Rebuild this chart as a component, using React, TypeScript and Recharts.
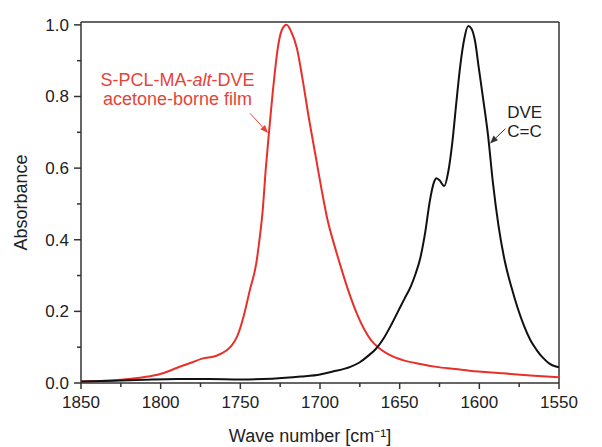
import { LineChart, Line, XAxis, YAxis, ReferenceLine, ReferenceDot } from 'recharts';

// S-PCL-MA-alt-DVE film (red)
const redWave = [1850, 1835, 1820, 1808, 1798, 1790, 1780, 1774, 1765, 1759, 1755, 1752, 1748, 1744, 1740, 1738, 1736, 1734, 1732, 1729, 1726.5, 1724, 1721, 1718, 1714.5, 1711, 1707, 1703, 1699, 1695, 1691, 1687, 1682, 1677, 1672, 1668, 1663, 1657, 1648, 1637, 1627, 1615, 1606, 1585, 1568, 1550];
const redAbs = [0.004, 0.006, 0.011, 0.018, 0.028, 0.042, 0.058, 0.068, 0.076, 0.09, 0.107, 0.13, 0.185, 0.26, 0.334, 0.4, 0.48, 0.6, 0.7, 0.84, 0.935, 0.985, 1.0, 0.98, 0.935, 0.85, 0.74, 0.64, 0.54, 0.45, 0.385, 0.325, 0.255, 0.195, 0.148, 0.12, 0.098, 0.08, 0.064, 0.053, 0.045, 0.039, 0.034, 0.027, 0.021, 0.016];

// DVE monomer (black)
const blackWave = [1850, 1830, 1810, 1790, 1770, 1750, 1730, 1712, 1700, 1692, 1681, 1675, 1670, 1665, 1660, 1655, 1651, 1647, 1643, 1640, 1637, 1634, 1631, 1628.5, 1627, 1625, 1622, 1619.5, 1617, 1614.5, 1612, 1609.5, 1607, 1605, 1602.5, 1600.5, 1597.5, 1594.5, 1591.5, 1588, 1584, 1580, 1576, 1572, 1568, 1564, 1560, 1556, 1552, 1550];
const blackAbs = [0.004, 0.006, 0.009, 0.011, 0.011, 0.01, 0.012, 0.018, 0.024, 0.032, 0.045, 0.058, 0.075, 0.095, 0.125, 0.165, 0.2, 0.235, 0.27, 0.305, 0.35, 0.42, 0.51, 0.56, 0.572, 0.566, 0.55, 0.59, 0.67, 0.78, 0.885, 0.96, 0.997, 0.99, 0.95, 0.885, 0.79, 0.69, 0.56, 0.44, 0.34, 0.27, 0.21, 0.16, 0.12, 0.092, 0.07, 0.054, 0.046, 0.044];

const xTicks = [1850, 1825, 1800, 1775, 1750, 1725, 1700, 1675, 1650, 1625, 1600, 1575, 1550];
const yTicks = [0, 0.1, 0.2, 0.3, 0.4, 0.5, 0.6, 0.7, 0.8, 0.9, 1.0];

const redData = redWave.map((w, i) => ({ w, a: redAbs[i] }));
const blackData = blackWave.map((w, i) => ({ w, a: blackAbs[i] }));

const FONT = '"Liberation Sans", Arial, sans-serif';
const AXIS = '#333';
const RED = '#e8302a';
const RED_TEXT = '#e5443a';

const XTick = (props: any) => {
  const { x, y, payload } = props;
  const v = payload.value;
  const major = v % 50 === 0;
  return (
    <g>
      <line x1={x} y1={y} x2={x} y2={y + (major ? 6 : 4)} stroke={AXIS} strokeWidth={1.5} />
      {major && (
        <text x={x} y={y + 25} textAnchor="middle" fontSize={17} fill="#222" fontFamily={FONT}>
          {v}
        </text>
      )}
    </g>
  );
};

const YTick = (props: any) => {
  const { x, y, payload } = props;
  const v = payload.value;
  const major = Math.round(v * 10) % 2 === 0;
  return (
    <g>
      <line x1={x - (major ? 7 : 4)} y1={y} x2={x} y2={y} stroke={AXIS} strokeWidth={1.5} />
      {major && (
        <text x={x - 12} y={y + 6} textAnchor="end" fontSize={17} fill="#222" fontFamily={FONT}>
          {v.toFixed(1)}
        </text>
      )}
    </g>
  );
};

const arrow = (color: string) => (p: any) => {
  const { x1, y1, x2, y2 } = p;
  const ang = Math.atan2(y2 - y1, x2 - x1);
  const L = 8;
  const W = 3.2;
  const bx = x2 - L * Math.cos(ang);
  const by = y2 - L * Math.sin(ang);
  const pts = `${x2},${y2} ${bx + W * Math.sin(ang)},${by - W * Math.cos(ang)} ${bx - W * Math.sin(ang)},${by + W * Math.cos(ang)}`;
  return (
    <g>
      <line x1={x1} y1={y1} x2={bx} y2={by} stroke={color} strokeWidth={1} />
      <polygon points={pts} fill={color} />
    </g>
  );
};

const redLabel = (p: any) => (
  <text x={p.cx} y={p.cy} textAnchor="middle" fontSize={18} fill={RED_TEXT} fontFamily={FONT}>
    <tspan x={p.cx}>
      S-PCL-MA-<tspan fontStyle="italic">alt</tspan>-DVE
    </tspan>
    <tspan x={p.cx} dy={18.5}>acetone-borne film</tspan>
  </text>
);

const blackLabel = (p: any) => (
  <g>
    <text x={p.cx} y={p.cy} textAnchor="start" fontSize={17} fill="#222" fontFamily={FONT}>
      DVE
    </text>
    <text x={p.cx} y={p.cy + 19} textAnchor="start" fontSize={17} fill="#222" fontFamily={FONT}>
      C=C
    </text>
  </g>
);

export default function App() {
  return (
    <div style={{ position: 'absolute', left: 0, top: 0, fontFamily: FONT, background: '#fff' }}>
      <LineChart width={602} height={447} margin={{ top: 22, right: 43, bottom: 0, left: 21 }}>
        <XAxis
          type="number"
          dataKey="w"
          domain={[1550, 1850]}
          reversed
          ticks={xTicks}
          interval={0}
          tickSize={0}
          tickMargin={0}
          tickLine={false}
          tick={<XTick />}
          height={64}
          axisLine={{ stroke: AXIS, strokeWidth: 1.5 }}
          allowDataOverflow
          label={{
            value: 'Wave number [cm⁻¹]',
            position: 'insideBottom',
            offset: 5,
            dx: -10,
            style: { fontSize: 18, fill: '#222', fontFamily: FONT },
          }}
        />
        <YAxis
          type="number"
          domain={[0, 1.008]}
          ticks={yTicks}
          interval={0}
          tickSize={0}
          tickMargin={0}
          tickLine={false}
          tick={<YTick />}
          width={60}
          axisLine={{ stroke: AXIS, strokeWidth: 1.5 }}
          allowDataOverflow
          label={{
            value: 'Absorbance',
            angle: -90,
            position: 'insideLeft',
            offset: 0,
            style: { fontSize: 18, fill: '#222', fontFamily: FONT, textAnchor: 'middle' },
          }}
        />
        <ReferenceLine y={1.008} stroke={AXIS} strokeWidth={1.5} />
        <ReferenceLine x={1550} stroke={AXIS} strokeWidth={1.5} />
        <Line data={redData} dataKey="a" type="monotone" stroke={RED} strokeWidth={2} dot={false} isAnimationActive={false} />
        <Line data={blackData} dataKey="a" type="monotone" stroke="#111" strokeWidth={2} dot={false} isAnimationActive={false} />
        <ReferenceLine
          segment={[{ x: 1743.9, y: 0.753 }, { x: 1732.6, y: 0.698 }]}
          stroke={RED_TEXT}
          shape={arrow(RED_TEXT)}
        />
        <ReferenceLine
          segment={[{ x: 1583.6, y: 0.71 }, { x: 1593.3, y: 0.669 }]}
          stroke="#333"
          shape={arrow('#333')}
        />
        <ReferenceDot x={1789.4} y={0.828} r={0} shape={redLabel} />
        <ReferenceDot x={1582.5} y={0.74} r={0} shape={blackLabel} />
      </LineChart>
    </div>
  );
}
